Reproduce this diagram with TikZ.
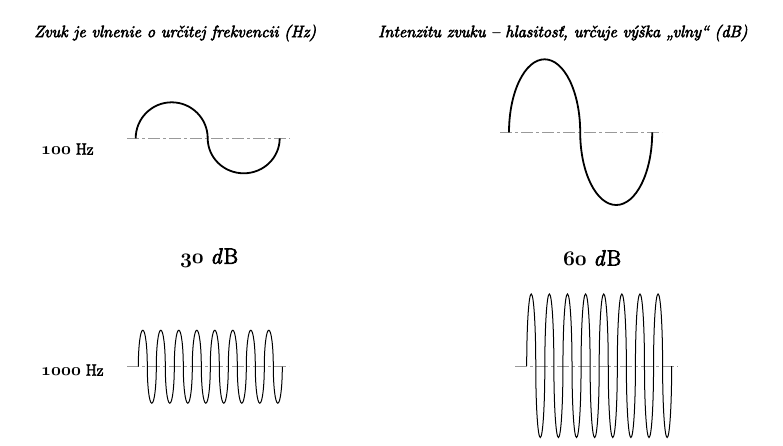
\documentclass[tikz,border=0pt]{standalone}
\usepackage{fontspec}
\newfontfamily\tfont{Latin Modern Roman}[FakeBold=3.5]
\newcommand{\osn}[1]{{\boldmath$\mathnormal{#1}$}}
\begin{document}
\begin{tikzpicture}[x=1pt,y=-1pt,
  axisline/.style={draw=black!40, line width=0.9pt, dash pattern=on 12pt off 3pt on 3pt off 3pt},
  bigwave/.style={draw=black, line width=1.8pt},
  thinwave/.style={draw=black, line width=1pt},
  title/.style={font=\fontsize{16.5}{19}\selectfont\tfont\itshape, anchor=west, inner sep=0pt},
  dblabel/.style={font=\fontsize{22}{26}\selectfont\tfont, inner sep=0pt},
  hzlabel/.style={font=\fontsize{16}{19}\selectfont\tfont, anchor=west, inner sep=0pt}]
\useasboundingbox (0,0) rectangle (783,445);
% titles
\node[title] (t1) at (34,33) {Zvuk je vlnenie o určitej frekvencii (Hz)};
\node[title] (t2) at (378,33) {Intenzitu zvuku – hlasitosť, určuje výška „vlny“ (dB)};
% labels
\node[hzlabel] (l100) at (41,149) {\osn{100} Hz};
\node[hzlabel] (l1000) at (41,370) {\osn{1000} Hz};
\node[dblabel] (db30) at (209,258) {\osn{30} \textit{d}\kern1pt B};
\node[dblabel] (db60) at (592,258) {\osn{60} \textit{d}\kern1pt B};
% axes
\draw[axisline] (127,138.3) -- (289.5,138.3);
\draw[axisline] (500,132.3) -- (662,132.3);
\draw[axisline] (127.3,366.7) -- (289.3,366.7);
\draw[axisline] (515,366) -- (678,366);
% 100 Hz, 30 dB
\draw[bigwave] (135.7,138.3) arc[start angle=180,end angle=360,x radius=36,y radius=36]
  arc[start angle=180,end angle=0,x radius=36,y radius=35];
% 100 Hz, 60 dB
\draw[bigwave] (509,132.3) arc[start angle=180,end angle=360,x radius=35.6,y radius=73]
  arc[start angle=180,end angle=0,x radius=36,y radius=72.7];
% 1000 Hz, 30 dB
\draw[thinwave] (138.3,366.7) \foreach \i in {1,...,8} {
  arc[start angle=180,end angle=360,x radius=4.5,y radius=36.5]
  arc[start angle=180,end angle=0,x radius=4.5,y radius=36.5] };
% 1000 Hz, 60 dB
\draw[thinwave] (526.7,366) \foreach \i in {1,...,8} {
  arc[start angle=180,end angle=360,x radius=4.53,y radius=72]
  arc[start angle=180,end angle=0,x radius=4.53,y radius=71.5] };
\end{tikzpicture}
\end{document}
